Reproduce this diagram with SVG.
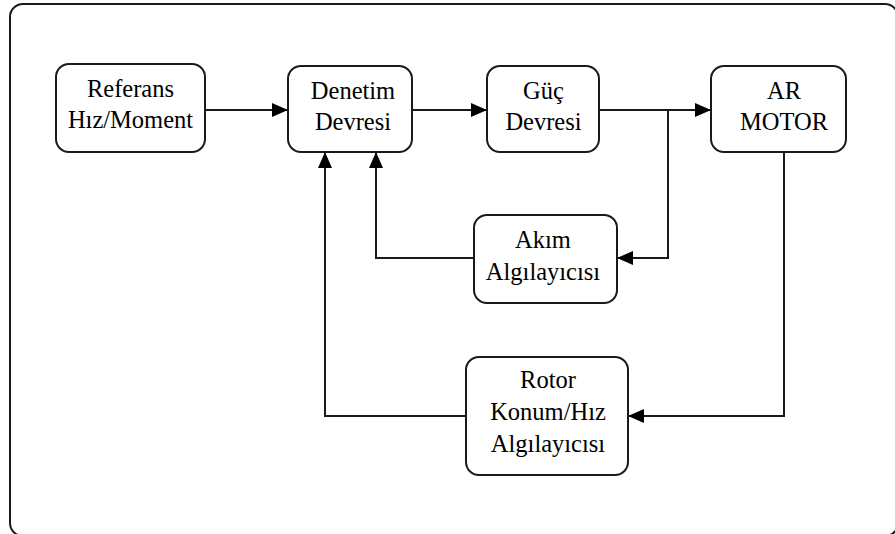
<svg xmlns="http://www.w3.org/2000/svg" width="895" height="534" viewBox="0 0 895 534">
<defs>
<style>
.box{fill:#fff;stroke:#1a1a1a;stroke-width:2}
.ln{fill:none;stroke:#1a1a1a;stroke-width:2}
.t{font-family:'Liberation Serif','DejaVu Serif',serif;font-size:24.5px;fill:#000;text-anchor:middle}
</style>
<marker id="ah" markerUnits="userSpaceOnUse" markerWidth="16" markerHeight="14" refX="16" refY="7" orient="auto">
<path d="M0,0 L16,7 L0,14 Z" fill="#000"/>
</marker>
</defs>
<rect x="0" y="0" width="895" height="534" fill="#fff"/>
<rect id="frame" x="10" y="4" width="888" height="532" rx="13" fill="none" stroke="#1a1a1a" stroke-width="2"/>
<g id="connectors">
<path class="ln" d="M205,110 H288" marker-end="url(#ah)"/>
<path class="ln" d="M412,110 H487" marker-end="url(#ah)"/>
<path class="ln" d="M599,110 H711" marker-end="url(#ah)"/>
<path class="ln" d="M668,110 V258 H617" marker-end="url(#ah)"/>
<path class="ln" d="M474,258 H376 V152" marker-end="url(#ah)"/>
<path class="ln" d="M784,152 V416 H628" marker-end="url(#ah)"/>
<path class="ln" d="M466,416 H325 V152" marker-end="url(#ah)"/>
</g>
<g id="referans">
<rect class="box" x="56" y="64" width="149" height="88" rx="13"/>
<text class="t" font-family="Liberation Serif, serif" x="130.5" y="97">Referans</text>
<text class="t" font-family="Liberation Serif, serif" x="130.5" y="128">Hız/Moment</text>
</g>
<g id="denetim">
<rect class="box" x="288" y="66" width="124" height="86" rx="13"/>
<text class="t" x="353" y="99">Denetim</text>
<text class="t" x="353" y="130">Devresi</text>
</g>
<g id="guc">
<rect class="box" x="487" y="66" width="112" height="86" rx="13"/>
<text class="t" x="543.5" y="99">Güç</text>
<text class="t" x="543.5" y="130">Devresi</text>
</g>
<g id="motor">
<rect class="box" x="711" y="66" width="135" height="86" rx="13"/>
<text class="t" x="784" y="99">AR</text>
<text class="t" x="784" y="130">MOTOR</text>
</g>
<g id="akim">
<rect class="box" x="474" y="215" width="143" height="88" rx="13"/>
<text class="t" x="543" y="248">Akım</text>
<text class="t" x="543" y="280">Algılayıcısı</text>
</g>
<g id="rotor">
<rect class="box" x="466" y="357" width="162" height="118" rx="13"/>
<text class="t" x="548" y="388">Rotor</text>
<text class="t" x="548" y="420">Konum/Hız</text>
<text class="t" x="548" y="452">Algılayıcısı</text>
</g>
</svg>
